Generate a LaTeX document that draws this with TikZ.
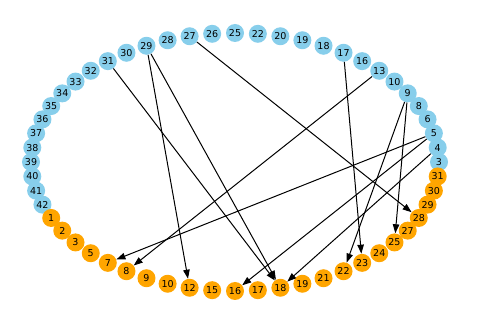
\documentclass[tikz,border=0pt]{standalone}
\usepackage{fontspec}
\setmainfont{DejaVu Sans}
\usetikzlibrary{arrows.meta}
\definecolor{skyb}{RGB}{135,206,235}
\definecolor{orng}{RGB}{255,165,0}
\begin{document}
\begin{tikzpicture}[x=1pt,y=-1pt,
  vtx/.style={circle,minimum size=18pt,inner sep=0pt,font=\fontsize{9.5}{9.5}\selectfont},
  bl/.style={vtx,fill=skyb},
  og/.style={vtx,fill=orng},
  edge/.style={-{Triangle[length=9pt,width=6.5pt]},line width=1pt,black}]
\useasboundingbox (0,0) rectangle (484,328);
\foreach \lab [count=\i from 0] in {3,4,5,6,8,9,10,13,16,17,18,19,20,22,25,26,27,28,29,30,31,32,33,34,35,36,37,38,39,40,41,42}
  \node[bl] (b\lab) at ({235+204*cos(\i*6.428571)},{162-129*sin(\i*6.428571)}) {\lab};
\foreach \lab [count=\i from 32] in {1,2,3,5,7,8,9,10,12,15,16,17,18,19,21,22,23,24,25,27,28,29,30,31}
  \node[og] (o\lab) at ({235+204*cos(\i*6.428571)},{162-129*sin(\i*6.428571)}) {\lab};
\draw[edge] (b27) -- (o28);
\draw[edge] (b31) -- (o18);
\draw[edge] (b29) -- (o12);
\draw[edge] (b29) -- (o18);
\draw[edge] (b13) -- (o8);
\draw[edge] (b5) -- (o7);
\draw[edge] (b5) -- (o16);
\draw[edge] (b4) -- (o18);
\draw[edge] (b17) -- (o23);
\draw[edge] (b9) -- (o22);
\draw[edge] (b9) -- (o25);
\end{tikzpicture}
\end{document}
